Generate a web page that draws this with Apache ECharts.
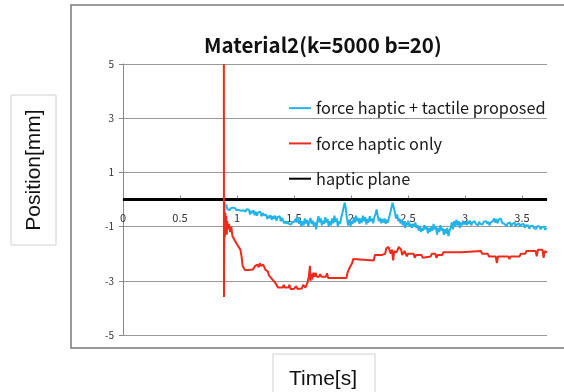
<!DOCTYPE html>
<html><head><meta charset="utf-8">
<script src="https://cdn.jsdelivr.net/npm/echarts@6/dist/echarts.min.js"></script>
<style>html,body{margin:0;padding:0;background:#fff}#c{width:564px;height:392px}</style>
</head><body><div id="c"></div>
<script>
const chartTitle = 'Material2(k=5000 b=20)';
const xName = 'Time[s]';
const yName = 'Position[mm]';
const xTickValues = [0, 0.5, 1, 1.5, 2, 2.5, 3, 3.5];
const yTickValues = [-5, -3, -1, 1, 3, 5];
const seriesNames = ['force haptic + tactile proposed', 'force haptic only', 'haptic plane'];

// [time s, position mm]
const tactileProposed = [
  [0.905,-0.18],[0.915,-0.35],[0.925,-0.3],[0.935,-0.4],[0.945,-0.32],[0.955,-0.38],[0.965,-0.3],[0.975,-0.36],
  [0.985,-0.32],[0.995,-0.4],[1.005,-0.33],[1.015,-0.38],[1.025,-0.31],[1.035,-0.42],[1.045,-0.35],[1.055,-0.4],
  [1.065,-0.33],[1.075,-0.45],[1.085,-0.36],[1.095,-0.42],[1.105,-0.38],[1.115,-0.55],[1.125,-0.42],[1.135,-0.5],
  [1.145,-0.4],[1.155,-0.58],[1.165,-0.45],[1.175,-0.6],[1.185,-0.48],[1.195,-0.55],[1.205,-0.45],[1.215,-0.62],
  [1.225,-0.5],[1.235,-0.58],[1.245,-0.65],[1.255,-0.55],[1.265,-0.72],[1.275,-0.6],[1.285,-0.68],[1.295,-0.58],
  [1.305,-0.75],[1.315,-0.62],[1.325,-0.7],[1.335,-0.6],[1.345,-0.78],[1.355,-0.65],[1.365,-0.72],[1.375,-0.62],
  [1.385,-0.8],[1.395,-0.68],[1.405,-0.75],[1.415,-0.88],[1.425,-0.8],[1.435,-0.9],[1.445,-0.82],[1.455,-0.9],
  [1.465,-0.85],[1.475,-0.92],[1.485,-0.84],[1.495,-0.9],[1.505,-0.82],[1.515,-0.7],[1.525,-0.85],[1.535,-0.65],
  [1.545,-0.9],[1.555,-0.75],[1.565,-1.0],[1.575,-0.8],[1.585,-0.95],[1.595,-0.7],[1.605,-0.88],[1.615,-0.75],
  [1.625,-1.0],[1.635,-0.82],[1.645,-0.68],[1.655,-0.9],[1.665,-0.78],[1.675,-1.0],[1.685,-0.85],[1.695,-1.1],
  [1.705,-0.8],[1.715,-0.62],[1.725,-0.85],[1.735,-0.7],[1.745,-0.95],[1.755,-0.78],[1.765,-0.9],[1.775,-0.65],
  [1.785,-0.85],[1.795,-0.72],[1.805,-1.0],[1.815,-0.8],[1.825,-0.95],[1.835,-0.7],[1.845,-0.88],[1.855,-0.6],
  [1.865,-0.82],[1.875,-0.7],[1.885,-1.0],[1.895,-0.8],[1.905,-0.9],[1.915,-0.65],[1.925,-0.5],[1.935,-0.3],
  [1.945,-0.12],[1.955,-0.35],[1.965,-0.7],[1.975,-0.95],[1.985,-0.75],[1.995,-1.0],[2.005,-0.8],[2.015,-0.9],
  [2.025,-0.65],[2.035,-0.85],[2.045,-0.6],[2.055,-0.8],[2.065,-0.68],[2.075,-0.9],[2.085,-0.7],[2.095,-0.85],
  [2.105,-0.6],[2.115,-0.8],[2.125,-0.65],[2.135,-0.92],[2.145,-0.72],[2.155,-0.85],[2.165,-0.62],[2.175,-0.8],
  [2.185,-0.7],[2.195,-0.88],[2.205,-0.65],[2.215,-0.55],[2.225,-0.37],[2.235,-0.6],[2.245,-0.8],[2.255,-0.68],
  [2.265,-0.88],[2.275,-0.72],[2.285,-0.85],[2.295,-0.7],[2.305,-0.9],[2.315,-0.75],[2.325,-0.85],[2.335,-0.65],
  [2.345,-0.5],[2.355,-0.3],[2.365,-0.12],[2.375,-0.3],[2.385,-0.45],[2.395,-0.7],[2.405,-0.55],[2.415,-0.8],
  [2.425,-0.7],[2.435,-0.88],[2.445,-0.75],[2.455,-0.95],[2.465,-0.8],[2.475,-1.05],[2.485,-0.85],[2.495,-0.95],
  [2.505,-0.8],[2.515,-1.0],[2.525,-0.9],[2.535,-1.05],[2.545,-0.9],[2.555,-1.0],[2.565,-0.85],[2.575,-1.05],
  [2.585,-0.95],[2.595,-1.15],[2.605,-1.0],[2.615,-1.2],[2.625,-1.05],[2.635,-1.15],[2.645,-0.95],[2.655,-1.1],
  [2.665,-1.0],[2.675,-1.25],[2.685,-1.05],[2.695,-1.2],[2.705,-1.0],[2.715,-1.15],[2.725,-0.9],[2.735,-1.1],
  [2.745,-1.0],[2.755,-1.3],[2.765,-1.05],[2.775,-1.2],[2.785,-0.95],[2.795,-1.15],[2.805,-1.05],[2.815,-1.3],
  [2.825,-1.1],[2.835,-1.25],[2.845,-1.05],[2.855,-1.35],[2.865,-1.15],[2.875,-1.05],[2.885,-0.85],[2.895,-1.1],
  [2.905,-0.8],[2.915,-1.0],[2.925,-0.75],[2.935,-0.95],[2.945,-0.8],[2.955,-1.05],[2.965,-0.85],[2.975,-0.95],
  [2.985,-0.8],[2.995,-0.92],[3.005,-0.82],[3.015,-0.95],[3.025,-0.8],[3.035,-0.9],[3.045,-0.78],[3.055,-0.95],
  [3.065,-0.85],[3.075,-0.92],[3.085,-0.8],[3.095,-0.9],[3.105,-0.85],[3.115,-0.95],[3.125,-0.82],[3.135,-0.9],
  [3.145,-0.84],[3.155,-0.92],[3.165,-0.82],[3.175,-0.88],[3.185,-0.8],[3.195,-0.9],[3.205,-0.82],[3.215,-0.95],
  [3.225,-0.85],[3.235,-0.9],[3.245,-0.8],[3.255,-0.7],[3.265,-0.85],[3.275,-0.72],[3.285,-0.88],[3.295,-0.75],
  [3.305,-0.82],[3.315,-0.7],[3.325,-0.85],[3.335,-0.78],[3.345,-0.9],[3.355,-0.85],[3.365,-0.98],[3.375,-0.88],
  [3.385,-0.95],[3.395,-0.85],[3.405,-1.0],[3.415,-0.9],[3.425,-0.95],[3.435,-0.85],[3.445,-1.0],[3.455,-0.92],
  [3.465,-0.98],[3.475,-0.88],[3.485,-1.0],[3.495,-0.92],[3.505,-0.97],[3.515,-0.9],[3.525,-1.05],[3.535,-0.95],
  [3.545,-1.02],[3.555,-0.96],[3.565,-1.08],[3.575,-0.98],[3.585,-1.05],[3.595,-0.97],[3.605,-1.05],[3.615,-1.0],
  [3.625,-1.08],[3.635,-0.98],[3.645,-1.05],[3.655,-1.0],[3.665,-1.1],[3.675,-1.02],[3.685,-1.08],[3.695,-1.0],
  [3.705,-1.12],[3.715,-1.05],[3.72,-1.15]
];

const forceHapticOnly = [
  [0.885,5],[0.886,-3.6],[0.889,-0.1],[0.893,-1.4],[0.897,-0.5],[0.901,-1.2],[0.905,-0.6],[0.91,-1.3],
  [0.915,-0.8],[0.92,-1.1],[0.93,-0.9],[0.94,-1.2],[0.95,-1.0],[0.96,-1.35],[0.98,-1.5],[1.0,-1.65],
  [1.03,-1.85],[1.04,-2.1],[1.05,-2.45],[1.07,-2.6],[1.1,-2.6],[1.14,-2.58],[1.16,-2.45],[1.18,-2.4],
  [1.19,-2.5],[1.2,-2.35],[1.21,-2.45],[1.23,-2.4],[1.25,-2.6],[1.27,-2.65],[1.28,-2.8],[1.29,-2.75],
  [1.31,-2.95],[1.32,-2.9],[1.34,-3.1],[1.36,-3.25],[1.4,-3.25],[1.41,-3.15],[1.42,-3.25],[1.45,-3.25],
  [1.46,-3.15],[1.47,-3.3],[1.5,-3.3],[1.52,-3.2],[1.53,-3.3],[1.57,-3.28],[1.58,-3.15],[1.6,-3.25],
  [1.62,-3.05],[1.63,-2.85],[1.64,-2.45],[1.645,-3.0],[1.65,-2.75],[1.66,-2.95],[1.67,-2.7],[1.68,-2.85],
  [1.69,-2.7],[1.7,-2.85],[1.72,-2.85],[1.73,-2.75],[1.74,-2.85],[1.78,-2.85],[1.79,-2.72],[1.8,-2.9],
  [1.96,-2.9],[1.97,-2.7],[1.98,-2.6],[1.99,-2.5],[2.0,-2.55],[2.01,-2.35],[2.02,-2.2],[2.03,-2.25],
  [2.2,-2.25],[2.21,-2.05],[2.27,-2.05],[2.28,-2.0],[2.3,-2.0],[2.31,-1.8],[2.33,-1.75],[2.34,-1.9],
  [2.35,-2.0],[2.36,-1.85],[2.37,-2.25],[2.38,-1.9],[2.4,-1.95],[2.42,-1.75],[2.44,-1.85],[2.45,-2.05],
  [2.47,-1.9],[2.49,-2.1],[2.5,-2.0],[2.55,-2.0],[2.56,-2.15],[2.57,-2.05],[2.62,-2.05],[2.63,-2.15],
  [2.64,-2.1],[2.7,-2.1],[2.71,-2.0],[2.74,-2.0],[2.75,-2.15],[2.76,-2.05],[2.8,-2.05],[2.81,-1.95],
  [2.97,-1.95],[2.98,-1.9],[3.14,-1.9],[3.15,-2.0],[3.2,-2.0],[3.21,-2.1],[3.27,-2.1],[3.28,-2.35],
  [3.29,-2.1],[3.38,-2.1],[3.39,-2.2],[3.4,-2.1],[3.48,-2.1],[3.49,-2.0],[3.53,-2.0],[3.54,-1.9],
  [3.62,-1.9],[3.63,-2.1],[3.64,-1.85],[3.68,-1.85],[3.69,-2.15],[3.7,-1.9],[3.72,-1.95]
];

const hapticPlane = [[0,0],[3.72,0]];

const FONT = '"Noto Sans CJK JP", "Noto Sans", sans-serif';
const chart = echarts.init(document.getElementById('c'), null, {renderer: 'canvas'});
chart.setOption({
  animation: false,
  backgroundColor: '#fff',
  textStyle: {fontFamily: FONT},
  title: {
    text: chartTitle, left: 199, top: 30,
    textStyle: {fontSize: 20.5, fontWeight: 'bold', color: '#111', fontFamily: FONT}
  },
  legend: {
    orient: 'vertical', left: 284, top: 95, itemGap: 19,
    icon: 'rect', itemWidth: 22, itemHeight: 2,
    data: seriesNames,
    textStyle: {fontSize: 16.3, color: '#1a1a1a', fontFamily: FONT}
  },
  grid: {left: 123, right: 17, top: 64, bottom: 57, containLabel: false},
  xAxis: {
    type: 'value', min: 0, max: 3.72, position: 'bottom', offset: -135.5,
    axisLine: {onZero: false, lineStyle: {color: '#888', width: 1}},
    axisTick: {show: true, length: 4, inside: true, customValues: xTickValues, lineStyle: {color: '#888'}},
    axisLabel: {customValues: xTickValues, margin: 13, fontSize: 11, color: '#333', fontFamily: FONT},
    splitLine: {show: false}
  },
  yAxis: {
    type: 'value', min: -5, max: 5,
    axisLine: {show: true, onZero: false, lineStyle: {color: '#888', width: 1}},
    axisTick: {show: true, length: 4, customValues: yTickValues, lineStyle: {color: '#888'}},
    axisLabel: {customValues: yTickValues, margin: 9, fontSize: 10, color: '#333', fontFamily: FONT},
    splitLine: {show: true, lineStyle: {color: '#999', width: 1}}
  },
  graphic: [
    {type: 'rect', z: -10, silent: true, shape: {x: 71, y: 5, width: 520, height: 343},
      style: {fill: 'none', stroke: '#7a7a7a', lineWidth: 1.5}},
    {type: 'rect', silent: true, shape: {x: 11, y: 95, width: 45, height: 150},
      style: {fill: '#fff', stroke: '#d0d0d0', lineWidth: 1}},
    {type: 'text', silent: true, x: 34, y: 170, rotation: Math.PI / 2,
      style: {text: yName, fontSize: 21, fill: '#111', font: '21px ' + FONT, textAlign: 'center', textVerticalAlign: 'middle'}},
    {type: 'rect', silent: true, shape: {x: 273, y: 354, width: 102, height: 45},
      style: {fill: '#fff', stroke: '#d0d0d0', lineWidth: 1}},
    {type: 'text', silent: true, x: 323, y: 379,
      style: {text: xName, fontSize: 21, fill: '#111', font: '21px ' + FONT, textAlign: 'center', textVerticalAlign: 'middle'}}
  ],
  series: [
    {name: seriesNames[2], type: 'line', data: hapticPlane, showSymbol: false, z: 2,
      lineStyle: {color: '#000', width: 3}, itemStyle: {color: '#000'}},
    {name: seriesNames[0], type: 'line', data: tactileProposed, showSymbol: false, z: 3,
      lineStyle: {color: '#22b4e6', width: 2}, itemStyle: {color: '#22b4e6'}},
    {name: seriesNames[1], type: 'line', data: forceHapticOnly, showSymbol: false, z: 4,
      lineStyle: {color: '#ee2a1c', width: 2}, itemStyle: {color: '#ee2a1c'}}
  ]
});
</script></body></html>
